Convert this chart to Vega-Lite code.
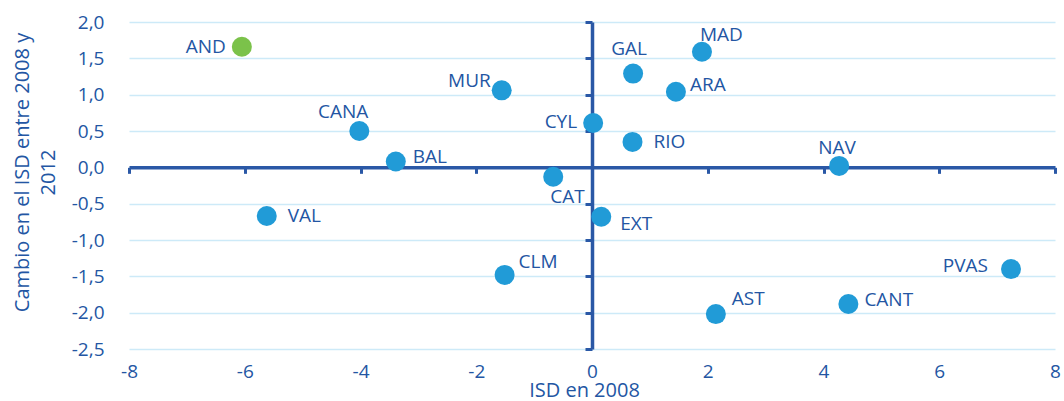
{
  "$schema": "https://vega.github.io/schema/vega-lite/v6.json",
  "width": 926,
  "height": 327,
  "autosize": {"type": "none"},
  "padding": {"left": 129, "top": 22, "right": 9, "bottom": 52},
  "background": "white",
  "config": {
    "view": {"stroke": null},
    "font": "Open Sans",
    "text": {"fontSize": 19, "fill": "#2356a3", "baseline": "middle"},
    "axis": {"zindex": 0}
  },
  "data": {
    "values": [
      {"name": "AND", "x": -6.05, "y": 1.66},
      {"name": "MAD", "x": 1.9, "y": 1.59},
      {"name": "GAL", "x": 0.71, "y": 1.29},
      {"name": "ARA", "x": 1.45, "y": 1.04},
      {"name": "MUR", "x": -1.56, "y": 1.06},
      {"name": "CANA", "x": -4.02, "y": 0.5},
      {"name": "CYL", "x": 0.02, "y": 0.61},
      {"name": "RIO", "x": 0.7, "y": 0.35},
      {"name": "BAL", "x": -3.39, "y": 0.08},
      {"name": "NAV", "x": 4.27, "y": 0.02},
      {"name": "CAT", "x": -0.67, "y": -0.13},
      {"name": "VAL", "x": -5.62, "y": -0.67},
      {"name": "EXT", "x": 0.16, "y": -0.68},
      {"name": "CLM", "x": -1.51, "y": -1.48},
      {"name": "PVAS", "x": 7.24, "y": -1.4},
      {"name": "CANT", "x": 4.43, "y": -1.88},
      {"name": "AST", "x": 2.14, "y": -2.02}
    ]
  },
  "resolve": {"axis": {"x": "independent", "y": "independent"}},
  "layer": [
    {
      "mark": {"type": "circle", "opacity": 0},
      "encoding": {
        "x": {
          "field": "x", "type": "quantitative",
          "scale": {"domain": [-8, 8], "nice": false, "zero": false},
          "axis": {
            "orient": "bottom", "values": [-8, -6, -4, -2, 0, 2, 4, 6, 8],
            "grid": false, "domain": false, "ticks": false, "tickSize": 0,
            "labelPadding": 13, "labelFontSize": 19, "labelColor": "#2356a3",
            "labelFont": "Open Sans", "labelFlush": false,
            "labelExpr": "toString(datum.value)",
            "title": "ISD en 2008", "titleFontSize": 20, "titleFontWeight": "normal",
            "titleColor": "#2356a3", "titleFont": "Open Sans",
            "titleX": 455, "titleY": 31, "titleBaseline": "top"
          }
        },
        "y": {
          "field": "y", "type": "quantitative",
          "scale": {"domain": [-2.5, 2.0], "nice": false, "zero": false},
          "axis": {
            "orient": "left", "values": [-2.5, -2, -1.5, -1, -0.5, 0, 0.5, 1, 1.5, 2],
            "grid": true, "gridColor": "#cdeaf8", "gridWidth": 1.3,
            "domain": false, "ticks": false, "tickSize": 0,
            "labelPadding": 25, "labelFontSize": 19, "labelColor": "#2356a3",
            "labelFont": "Open Sans", "labelFlush": false,
            "labelExpr": "replace(replace(format(datum.value, '.1f'), '.', ','), '\u2212', '-')",
            "title": ["Cambio en el ISD entre 2008 y", "2012"],
            "titleFontSize": 20, "titleFontWeight": "normal", "titleColor": "#2356a3",
            "titleFont": "Open Sans", "titleLineHeight": 26,
            "titleX": -97, "titleY": 150, "titleAngle": -90, "titleBaseline": "bottom", "titleAlign": "center"
          }
        }
      }
    },
    {
      "mark": {"type": "circle", "opacity": 0},
      "encoding": {
        "x": {
          "field": "x", "type": "quantitative",
          "axis": {
            "orient": "bottom", "offset": -181.67, "values": [-8, -6, -4, -2, 0, 2, 4, 6, 8],
            "grid": false, "labels": false, "title": null,
            "domain": true, "domainColor": "#2a58a6", "domainWidth": 3.5,
            "ticks": true, "tickColor": "#2a58a6", "tickWidth": 3, "tickSize": 6
          }
        },
        "y": {
          "field": "y", "type": "quantitative",
          "axis": {
            "orient": "left", "offset": -463, "values": [-2.5, -2, -1.5, -1, -0.5, 0, 0.5, 1, 1.5, 2],
            "grid": false, "labels": false, "title": null,
            "domain": true, "domainColor": "#2a58a6", "domainWidth": 3.5,
            "ticks": true, "tickColor": "#2a58a6", "tickWidth": 3, "tickSize": 7
          }
        }
      }
    },
    {
      "mark": {"type": "circle", "size": 400, "opacity": 1},
      "encoding": {
        "x": {"field": "x", "type": "quantitative", "axis": null},
        "y": {"field": "y", "type": "quantitative", "axis": null},
        "color": {
          "condition": {"test": "datum.name === 'AND'", "value": "#7bc24a"},
          "value": "#219bd7"
        }
      }
    },
    {"transform": [{"filter": "datum.name === 'AND'"}], "mark": {"type": "text", "align": "right", "dx": -16, "dy": 0},
     "encoding": {"x": {"field": "x", "type": "quantitative", "axis": null}, "y": {"field": "y", "type": "quantitative", "axis": null}, "text": {"field": "name"}}},
    {"transform": [{"filter": "datum.name === 'MAD'"}], "mark": {"type": "text", "align": "left", "dx": -2, "dy": -17},
     "encoding": {"x": {"field": "x", "type": "quantitative", "axis": null}, "y": {"field": "y", "type": "quantitative", "axis": null}, "text": {"field": "name"}}},
    {"transform": [{"filter": "datum.name === 'GAL'"}], "mark": {"type": "text", "align": "center", "dx": -4, "dy": -25},
     "encoding": {"x": {"field": "x", "type": "quantitative", "axis": null}, "y": {"field": "y", "type": "quantitative", "axis": null}, "text": {"field": "name"}}},
    {"transform": [{"filter": "datum.name === 'ARA'"}], "mark": {"type": "text", "align": "left", "dx": 14, "dy": -7},
     "encoding": {"x": {"field": "x", "type": "quantitative", "axis": null}, "y": {"field": "y", "type": "quantitative", "axis": null}, "text": {"field": "name"}}},
    {"transform": [{"filter": "datum.name === 'MUR'"}], "mark": {"type": "text", "align": "right", "dx": -11, "dy": -9},
     "encoding": {"x": {"field": "x", "type": "quantitative", "axis": null}, "y": {"field": "y", "type": "quantitative", "axis": null}, "text": {"field": "name"}}},
    {"transform": [{"filter": "datum.name === 'CANA'"}], "mark": {"type": "text", "align": "right", "dx": 9, "dy": -19},
     "encoding": {"x": {"field": "x", "type": "quantitative", "axis": null}, "y": {"field": "y", "type": "quantitative", "axis": null}, "text": {"field": "name"}}},
    {"transform": [{"filter": "datum.name === 'CYL'"}], "mark": {"type": "text", "align": "right", "dx": -16, "dy": -1},
     "encoding": {"x": {"field": "x", "type": "quantitative", "axis": null}, "y": {"field": "y", "type": "quantitative", "axis": null}, "text": {"field": "name"}}},
    {"transform": [{"filter": "datum.name === 'RIO'"}], "mark": {"type": "text", "align": "left", "dx": 21, "dy": 0},
     "encoding": {"x": {"field": "x", "type": "quantitative", "axis": null}, "y": {"field": "y", "type": "quantitative", "axis": null}, "text": {"field": "name"}}},
    {"transform": [{"filter": "datum.name === 'BAL'"}], "mark": {"type": "text", "align": "left", "dx": 17, "dy": -5},
     "encoding": {"x": {"field": "x", "type": "quantitative", "axis": null}, "y": {"field": "y", "type": "quantitative", "axis": null}, "text": {"field": "name"}}},
    {"transform": [{"filter": "datum.name === 'NAV'"}], "mark": {"type": "text", "align": "center", "dx": -2, "dy": -18},
     "encoding": {"x": {"field": "x", "type": "quantitative", "axis": null}, "y": {"field": "y", "type": "quantitative", "axis": null}, "text": {"field": "name"}}},
    {"transform": [{"filter": "datum.name === 'CAT'"}], "mark": {"type": "text", "align": "left", "dx": -3, "dy": 20},
     "encoding": {"x": {"field": "x", "type": "quantitative", "axis": null}, "y": {"field": "y", "type": "quantitative", "axis": null}, "text": {"field": "name"}}},
    {"transform": [{"filter": "datum.name === 'VAL'"}], "mark": {"type": "text", "align": "left", "dx": 21, "dy": 0},
     "encoding": {"x": {"field": "x", "type": "quantitative", "axis": null}, "y": {"field": "y", "type": "quantitative", "axis": null}, "text": {"field": "name"}}},
    {"transform": [{"filter": "datum.name === 'EXT'"}], "mark": {"type": "text", "align": "left", "dx": 19, "dy": 7},
     "encoding": {"x": {"field": "x", "type": "quantitative", "axis": null}, "y": {"field": "y", "type": "quantitative", "axis": null}, "text": {"field": "name"}}},
    {"transform": [{"filter": "datum.name === 'CLM'"}], "mark": {"type": "text", "align": "left", "dx": 14, "dy": -13},
     "encoding": {"x": {"field": "x", "type": "quantitative", "axis": null}, "y": {"field": "y", "type": "quantitative", "axis": null}, "text": {"field": "name"}}},
    {"transform": [{"filter": "datum.name === 'PVAS'"}], "mark": {"type": "text", "align": "right", "dx": -23, "dy": -3},
     "encoding": {"x": {"field": "x", "type": "quantitative", "axis": null}, "y": {"field": "y", "type": "quantitative", "axis": null}, "text": {"field": "name"}}},
    {"transform": [{"filter": "datum.name === 'CANT'"}], "mark": {"type": "text", "align": "left", "dx": 16, "dy": -4},
     "encoding": {"x": {"field": "x", "type": "quantitative", "axis": null}, "y": {"field": "y", "type": "quantitative", "axis": null}, "text": {"field": "name"}}},
    {"transform": [{"filter": "datum.name === 'AST'"}], "mark": {"type": "text", "align": "left", "dx": 16, "dy": -15},
     "encoding": {"x": {"field": "x", "type": "quantitative", "axis": null}, "y": {"field": "y", "type": "quantitative", "axis": null}, "text": {"field": "name"}}}
  ]
}
